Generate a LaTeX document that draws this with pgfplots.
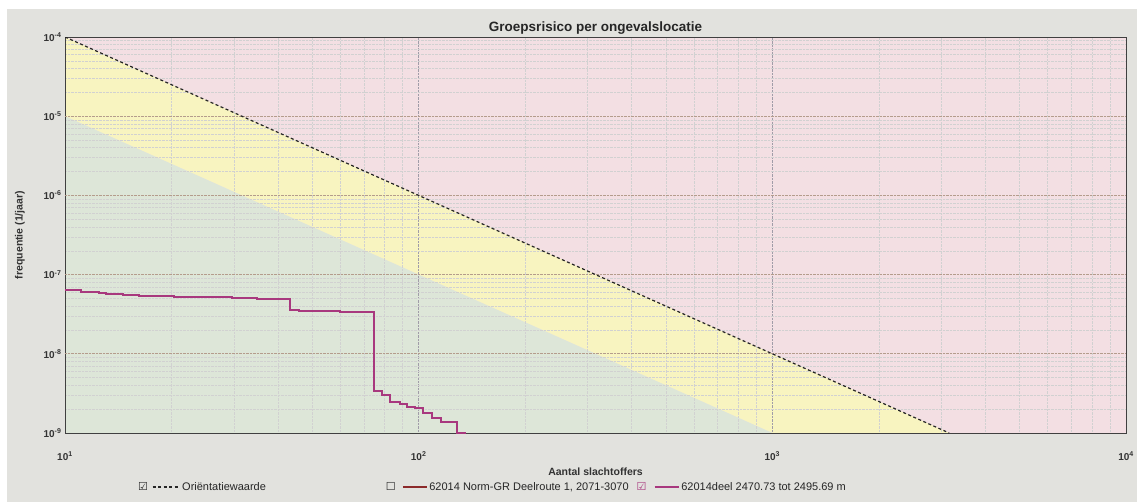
\documentclass[border=0pt]{standalone}
\usepackage{pgfplots}
\pgfplotsset{compat=1.18}
\usepackage{fontspec}
\setmainfont{Liberation Sans}
\newfontfamily\symf{DejaVu Sans}
\definecolor{panel}{HTML}{E2E2DE}
\definecolor{pinkc}{HTML}{F3DFE3}
\definecolor{yelc}{HTML}{F8F4C0}
\definecolor{greenc}{HTML}{DDE6D8}
\definecolor{stepc}{HTML}{A8387E}
\definecolor{normc}{HTML}{8C2A2A}
\definecolor{hgrid}{HTML}{B49C8C}
\definecolor{vgrid}{HTML}{A09CA8}
\begin{document}
\begin{tikzpicture}[x=1pt,y=1pt]
\fill[white] (0,0) rectangle (1137,502);
\fill[panel] (7,0) rectangle (1137,493);
% background areas
\begin{axis}[
  at={(65pt,69pt)}, anchor=south west,
  scale only axis, width=1061pt, height=396pt,
  xmode=log, ymode=log,
  xmin=10, xmax=10000, ymin=1e-9, ymax=1e-4,
  axis background/.style={fill=pinkc},
  axis line style={draw=none}, ticks=none]
\addplot[fill=yelc, draw=none] coordinates {(10,1e-4) (3162.28,1e-9) (1000,1e-9) (10,1e-5)} -- cycle;
\addplot[fill=greenc, draw=none] coordinates {(10,1e-5) (1000,1e-9) (10,1e-9)} -- cycle;
\end{axis}
% grid, curves, labels
\begin{axis}[
  at={(65pt,69pt)}, anchor=south west,
  scale only axis, width=1061pt, height=396pt,
  xmode=log, ymode=log,
  xmin=10, xmax=10000, ymin=1e-9, ymax=1e-4,
  axis line style={draw=black!75, line width=1pt},
  tick style={draw=none},
  xtick={10,100,1000,10000},
  xticklabels={10\textsuperscript{1},10\textsuperscript{2},10\textsuperscript{3},10\textsuperscript{4}},
  ytick={1e-9,1e-8,1e-7,1e-6,1e-5,1e-4},
  yticklabels={10\textsuperscript{-9},10\textsuperscript{-8},10\textsuperscript{-7},10\textsuperscript{-6},10\textsuperscript{-5},10\textsuperscript{-4}},
  minor xtick={20,30,40,50,60,70,80,90,200,300,400,500,600,700,800,900,2000,3000,4000,5000,6000,7000,8000,9000},
  minor ytick={2e-9,3e-9,4e-9,5e-9,6e-9,7e-9,8e-9,9e-9,2e-8,3e-8,4e-8,5e-8,6e-8,7e-8,8e-8,9e-8,2e-7,3e-7,4e-7,5e-7,6e-7,7e-7,8e-7,9e-7,2e-6,3e-6,4e-6,5e-6,6e-6,7e-6,8e-6,9e-6,2e-5,3e-5,4e-5,5e-5,6e-5,7e-5,8e-5,9e-5},
  xmajorgrids, xminorgrids, yminorgrids,
  major grid style={densely dotted, vgrid, line width=0.6pt},
  minor grid style={densely dotted, black!18, line width=0.5pt},
  extra y ticks={1e-8,1e-7,1e-6,1e-5},
  extra y tick labels={},
  extra y tick style={ymajorgrids, major grid style={hgrid, line width=0.8pt}},
  ticklabel style={font=\bfseries\fontsize{10}{11}\selectfont, text=black!80},
  xticklabel style={anchor=center, yshift=-23pt},
  title={Groepsrisico per ongevalslocatie},
  title style={at={(0.5,1)}, anchor=south, inner sep=0pt, yshift=-4pt, font=\bfseries\fontsize{13.5}{15}\selectfont, text=black!85},
  xlabel={Aantal slachtoffers},
  xlabel style={at={(axis description cs:0.5,-0.0985)}, anchor=center, font=\bfseries\fontsize{10.5}{12}\selectfont, text=black!80},
  ylabel={frequentie (1/jaar)},
  ylabel style={at={(axis description cs:-0.0424,0.5)}, anchor=center, font=\bfseries\fontsize{10.5}{12}\selectfont, text=black!80},
  legend columns=3,
  legend style={draw=none, fill=none, inner sep=0pt,
    at={(axis description cs:0.0688,-0.1364)}, anchor=west,
    font=\fontsize{11}{12}\selectfont, text=black!85,
    /tikz/column 2/.style={column sep=118pt},
    /tikz/column 4/.style={column sep=6pt}},
]
\addplot[black!85, line width=1.2pt, dash pattern=on 3pt off 2.5pt,
  legend image code/.code={
    \node[inner sep=0pt, anchor=west, font=\symf\fontsize{11}{11}\selectfont] at (0pt,0pt) {☑};
    \draw[black!85, line width=1.2pt, dash pattern=on 3pt off 2.5pt] (15pt,0pt) -- (42pt,0pt);}]
  coordinates {(10,1e-4) (3162.28,1e-9)};
\addlegendentry{Oriëntatiewaarde}
\addlegendimage{legend image code/.code={
    \node[inner sep=0pt, anchor=west, font=\symf\fontsize{11}{11}\selectfont] at (0pt,0pt) {☐};
    \draw[normc, line width=1.2pt] (17pt,0pt) -- (41pt,0pt);}}
\addlegendentry{62014 Norm-GR Deelroute 1, 2071-3070}
\addplot[const plot, stepc, line width=2pt,
  legend image code/.code={
    \node[inner sep=0pt, anchor=west, font=\symf\fontsize{11}{11}\selectfont] at (0pt,0pt) {☑};
    \draw[stepc, line width=1.2pt] (19pt,0pt) -- (43pt,0pt);}]
  coordinates {(10,6.40e-8) (11.1,6.09e-8) (12.5,5.87e-8) (13.1,5.74e-8) (14.6,5.53e-8) (16.2,5.37e-8) (20.3,5.22e-8) (29.6,5.01e-8) (34.8,4.87e-8) (43.2,3.57e-8) (45.8,3.43e-8) (60.1,3.33e-8) (74.6,3.40e-9) (79.0,3.03e-9) (83.2,2.45e-9) (88.4,2.31e-9) (92.9,2.13e-9) (97.4,2.05e-9) (102.8,1.79e-9) (109.0,1.56e-9) (115.9,1.39e-9) (128.3,1.0e-9) (135.8,1.0e-9)};
\addlegendentry{62014deel 2470.73 tot 2495.69 m}
\end{axis}
\pgfresetboundingbox
\path (0,0) rectangle (1137,502);
\end{tikzpicture}
\end{document}
